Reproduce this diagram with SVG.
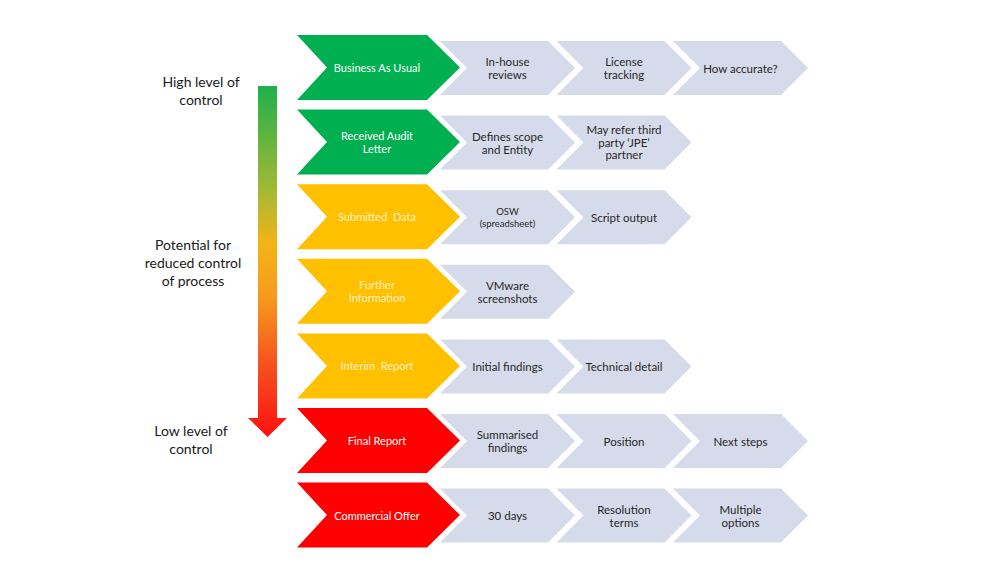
<svg xmlns="http://www.w3.org/2000/svg" xmlns:xlink="http://www.w3.org/1999/xlink" width="1000" height="563" viewBox="0 0 1000 563">
<defs>
<linearGradient id="ctrl" gradientUnits="userSpaceOnUse" x1="0" y1="86" x2="0" y2="437">
<stop offset="0" stop-color="#1eb04d"/>
<stop offset="0.3" stop-color="#a6b933"/>
<stop offset="0.45" stop-color="#f2b417"/>
<stop offset="0.6" stop-color="#f89a1d"/>
<stop offset="0.8" stop-color="#f5501e"/>
<stop offset="1" stop-color="#ff1010"/>
</linearGradient>
<polygon id="main" points="0,0 130,0 163,32.5 130,65 0,65 30,32.5"/>
<polygon id="gray" points="0,6 108,6 135,33 108,60 0,60 27,33"/>
</defs>
<style>
.g{fill:#00b050}
.y{fill:#ffc000}
.r{fill:#ff0000}
.s{fill:#d6dbeb}
text{font-family:Lato,"Open Sans","Liberation Sans",sans-serif;text-anchor:middle;dominant-baseline:central}
.mt{font-size:11px;fill:#ffffff}
.my{font-size:11px;fill:#fff1c4}
.st{font-size:11.5px;fill:#262626}
.sm{font-size:9.5px;fill:#262626}
.lab{font-size:14px;fill:#1a1a1a}
</style>
<rect width="1000" height="563" fill="#ffffff"/>

<g id="labels">
<text class="lab" x="201" y="81">High level of</text>
<text class="lab" x="201" y="99">control</text>
<text class="lab" x="193" y="244">Potential for</text>
<text class="lab" x="193" y="262">reduced control</text>
<text class="lab" x="193" y="280">of process</text>
<text class="lab" x="191" y="430">Low level of</text>
<text class="lab" x="191" y="448">control</text>
</g>

<g id="connectors">
<polygon id="control-arrow" fill="url(#ctrl)" points="258,86 277,86 277,418 287,418 267.5,437 248,418 258,418"/>
</g>

<g id="row1" transform="translate(0,35)">
<g id="n1"><use href="#main" x="297" class="g"/><text class="mt" x="377" y="32.5">Business As Usual</text></g>
<g id="n1a"><use href="#gray" x="440" class="s"/><text class="st" x="507.5" y="26.5">In-house</text><text class="st" x="507.5" y="39.5">reviews</text></g>
<g id="n1b"><use href="#gray" x="556.5" class="s"/><text class="st" x="624" y="26.5">License</text><text class="st" x="624" y="39.5">tracking</text></g>
<g id="n1c"><use href="#gray" x="673" class="s"/><text class="st" x="740.5" y="33">How accurate?</text></g>
</g>

<g id="row2" transform="translate(0,109.6)">
<g id="n2"><use href="#main" x="297" class="g"/><text class="mt" x="377" y="26">Received Audit</text><text class="mt" x="377" y="39">Letter</text></g>
<g id="n2a"><use href="#gray" x="440" class="s"/><text class="st" x="507.5" y="26.5">Defines scope</text><text class="st" x="507.5" y="39.5">and Entity</text></g>
<g id="n2b"><use href="#gray" x="556.5" class="s"/><text class="st" x="624" y="20">May refer third</text><text class="st" x="624" y="32.5">party ‘JPE’</text><text class="st" x="624" y="45">partner</text></g>
</g>

<g id="row3" transform="translate(0,184.2)">
<g id="n3"><use href="#main" x="297" class="y"/><text class="my" x="377" y="32.5" xml:space="preserve">Submitted  Data</text></g>
<g id="n3a"><use href="#gray" x="440" class="s"/><text class="sm" x="507.5" y="27.5">OSW</text><text class="sm" x="507.5" y="39">(spreadsheet)</text></g>
<g id="n3b"><use href="#gray" x="556.5" class="s"/><text class="st" x="624" y="33">Script output</text></g>
</g>

<g id="row4" transform="translate(0,258.8)">
<g id="n4"><use href="#main" x="297" class="y"/><text class="my" x="377" y="26">Further</text><text class="my" x="377" y="39">Information</text></g>
<g id="n4a"><use href="#gray" x="440" class="s"/><text class="st" x="507.5" y="26.5">VMware</text><text class="st" x="507.5" y="39.5">screenshots</text></g>
</g>

<g id="row5" transform="translate(0,333.4)">
<g id="n5"><use href="#main" x="297" class="y"/><text class="my" x="377" y="32.5" xml:space="preserve">Interim  Report</text></g>
<g id="n5a"><use href="#gray" x="440" class="s"/><text class="st" x="507.5" y="33">Initial findings</text></g>
<g id="n5b"><use href="#gray" x="556.5" class="s"/><text class="st" x="624" y="33">Technical detail</text></g>
</g>

<g id="row6" transform="translate(0,408)">
<g id="n6"><use href="#main" x="297" class="r"/><text class="mt" x="377" y="32.5">Final Report</text></g>
<g id="n6a"><use href="#gray" x="440" class="s"/><text class="st" x="507.5" y="26.5">Summarised</text><text class="st" x="507.5" y="39.5">findings</text></g>
<g id="n6b"><use href="#gray" x="556.5" class="s"/><text class="st" x="624" y="33">Position</text></g>
<g id="n6c"><use href="#gray" x="673" class="s"/><text class="st" x="740.5" y="33">Next steps</text></g>
</g>

<g id="row7" transform="translate(0,482.6)">
<g id="n7"><use href="#main" x="297" class="r"/><text class="mt" x="377" y="32.5">Commercial Offer</text></g>
<g id="n7a"><use href="#gray" x="440" class="s"/><text class="st" x="507.5" y="33">30 days</text></g>
<g id="n7b"><use href="#gray" x="556.5" class="s"/><text class="st" x="624" y="26.5">Resolution</text><text class="st" x="624" y="39.5">terms</text></g>
<g id="n7c"><use href="#gray" x="673" class="s"/><text class="st" x="740.5" y="26.5">Multiple</text><text class="st" x="740.5" y="39.5">options</text></g>
</g>
</svg>
